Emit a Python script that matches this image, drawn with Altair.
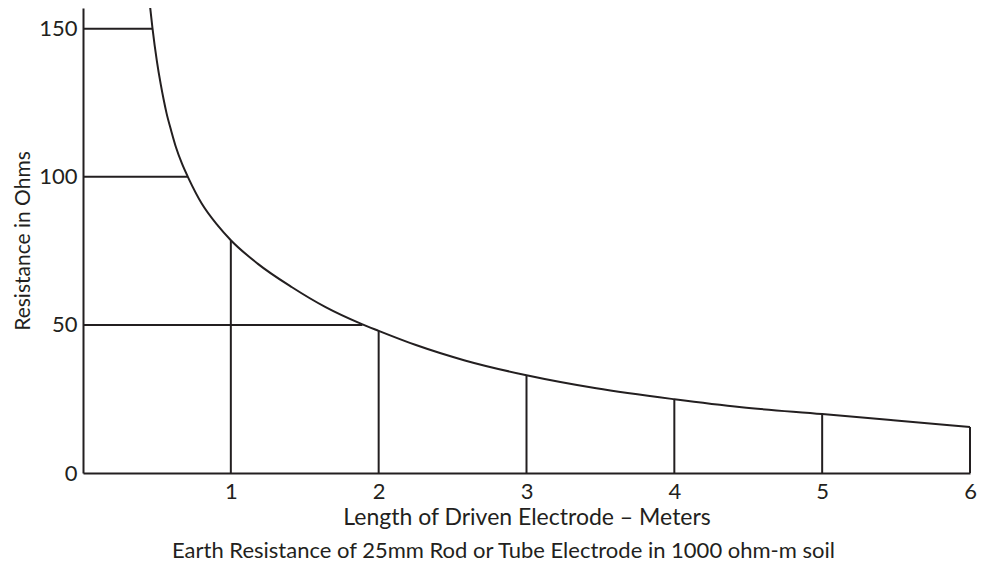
import altair as alt
import pandas as pd

# Curve: resistance (ohms) vs electrode length (m)
curve_x = [0.453, 0.4695, 0.500, 0.526, 0.5455, 0.565, 0.597, 0.630, 0.669, 0.714,
           0.803, 0.911, 1.0, 1.181, 1.411, 1.641, 1.871, 2.0, 2.252, 2.583,
           3.0, 3.472, 4.0, 4.455, 5.0, 5.48, 6.0]
curve_y = [157.8, 150.4, 139.0, 131.2, 126.1, 121.5, 115.5, 109.8, 104.5, 99.5,
           91.0, 83.6, 78.6, 70.7, 62.8, 56.0, 50.6, 48.0, 43.2, 38.0,
           33.0, 28.6, 24.9, 22.2, 19.9, 17.8, 15.5]

# Vertical drop lines at each whole metre
drop_x = [1, 2, 3, 4, 5, 6]
drop_top = [78.6, 48.0, 33.0, 24.9, 19.9, 15.5]

# Horizontal lines from the axis to the curve
hline_y = [150, 100, 50]
hline_end = [0.471, 0.71, 1.89]

x_ticks = [1, 2, 3, 4, 5, 6]
y_ticks = [0, 50, 100, 150]

INK = "#231f20"
FONT = "Lato"

curve_df = pd.DataFrame({"x": curve_x, "y": curve_y})
drop_df = pd.DataFrame({"x": drop_x, "y0": [0] * len(drop_x), "y1": drop_top})
hline_df = pd.DataFrame({"y": hline_y, "x0": [0] * len(hline_y), "x1": hline_end})

xscale = alt.Scale(domain=[0, 6], nice=False, zero=True)
yscale = alt.Scale(domain=[0, 157], nice=False, zero=True)

xaxis = alt.Axis(values=x_ticks, title="Length of Driven Electrode – Meters",
                 grid=False, ticks=False, domainColor=INK, domainWidth=2,
                 labelFont=FONT, labelFontSize=22, labelColor=INK, labelPadding=8,
                 titleFont=FONT, titleFontSize=23, titleFontWeight="normal",
                 titleColor=INK, titlePadding=4, labelFlush=False)
yaxis = alt.Axis(values=y_ticks, title="Resistance in Ohms",
                 grid=False, ticks=False, domainColor=INK, domainWidth=2,
                 labelFont=FONT, labelFontSize=22, labelColor=INK, labelPadding=6,
                 titleFont=FONT, titleFontSize=21, titleFontWeight="normal",
                 titleColor=INK, titlePadding=5, labelFlush=False)

curve = alt.Chart(curve_df).mark_line(color=INK, strokeWidth=2, interpolate="monotone").encode(
    x=alt.X("x:Q", scale=xscale, axis=xaxis),
    y=alt.Y("y:Q", scale=yscale, axis=yaxis),
)

drops = alt.Chart(drop_df).mark_rule(color=INK, strokeWidth=2).encode(
    x=alt.X("x:Q", scale=xscale, axis=xaxis),
    y=alt.Y("y0:Q", scale=yscale, axis=yaxis),
    y2="y1:Q",
)

hlines = alt.Chart(hline_df).mark_rule(color=INK, strokeWidth=2).encode(
    y=alt.Y("y:Q", scale=yscale, axis=yaxis),
    x=alt.X("x0:Q", scale=xscale, axis=xaxis),
    x2="x1:Q",
)

chart = alt.layer(hlines, drops, curve).properties(
    width=887,
    height=465,
    autosize=alt.AutoSizeParams(type="none"),
    padding={"left": 75, "top": 0, "right": 7, "bottom": 90},
    title=alt.TitleParams(
        "Earth Resistance of 25mm Rod or Tube Electrode in 1000 ohm-m soil",
        orient="bottom", anchor="middle", font=FONT, fontSize=22,
        fontWeight="normal", color=INK, offset=12, dx=-23,
    ),
).configure(background="white").configure_view(stroke=None)

chart.save("out.html", embed_options={"renderer": "svg", "actions": False})
